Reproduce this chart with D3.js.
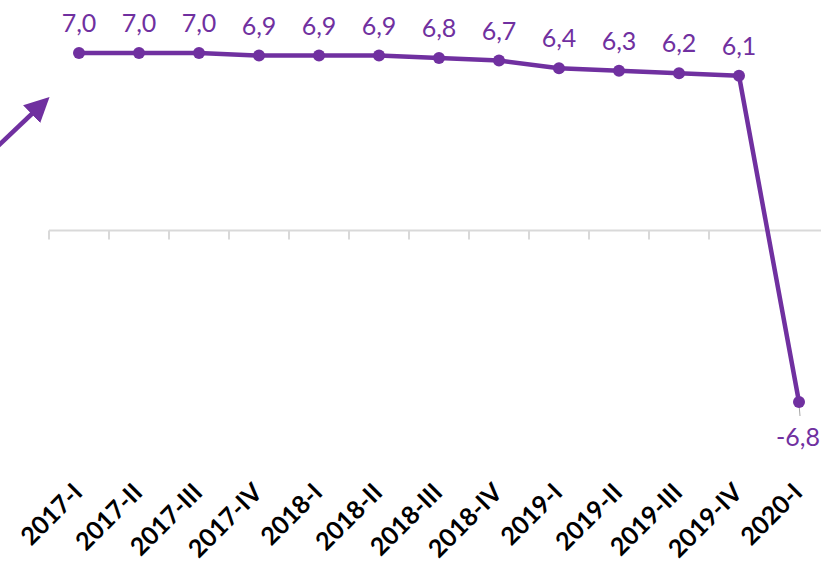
<!DOCTYPE html>
<html><head><meta charset="utf-8">
<script src="https://cdn.jsdelivr.net/npm/d3@7"></script>
<style>body{margin:0;background:#fff}svg{display:block}</style>
</head><body>
<script>
const categories = ["2017-I","2017-II","2017-III","2017-IV","2018-I","2018-II","2018-III","2018-IV","2019-I","2019-II","2019-III","2019-IV","2020-I"];
const values = [7.0,7.0,7.0,6.9,6.9,6.9,6.8,6.7,6.4,6.3,6.2,6.1,-6.8];
const labels = ["7,0","7,0","7,0","6,9","6,9","6,9","6,8","6,7","6,4","6,3","6,2","6,1","-6,8"];

const W = 821, H = 565, color = "#7030A0";
const svg = d3.select("body").append("svg").attr("width", W).attr("height", H);

const x = d3.scaleBand().domain(categories).range([49, 829]);
const cx = d => x(d) + x.bandwidth() / 2;
const y = d3.scaleLinear().domain([-6.8, 7.0]).range([402, 53]);

// axis line and boundary ticks
const y0 = Math.round(y(0)) + 0.5;
const ax = svg.append("g");
ax.append("line").attr("x1", 49).attr("x2", 829).attr("y1", y0).attr("y2", y0)
  .attr("stroke", "#d9d9d9").attr("stroke-width", 2);
const bounds = categories.map(c => x(c)).concat([x.range()[1]]);
ax.selectAll("line.t").data(bounds).enter().append("line").attr("class", "t")
  .attr("x1", d => d).attr("x2", d => d).attr("y1", y0).attr("y2", y0 + 9)
  .attr("stroke", "#d9d9d9").attr("stroke-width", 2);

// x labels
svg.append("g").selectAll("text").data(categories).enter().append("text")
  .attr("transform", d => `translate(${cx(d) + 5},${494}) rotate(-45)`)
  .attr("text-anchor", "end")
  .attr("font-family", "Lato, sans-serif").attr("font-weight", "bold")
  .attr("font-size", 25).attr("fill", "#000").text(d => d);

// arrow
svg.append("defs").append("marker").attr("id", "ah").attr("viewBox", "0 0 10 10")
  .attr("refX", 3).attr("refY", 5).attr("markerWidth", 5.5).attr("markerHeight", 5.5)
  .attr("orient", "auto").append("path").attr("d", "M0,0 L10,5 L0,10 z").attr("fill", color);
svg.append("line").attr("x1", -4).attr("y1", 148).attr("x2", 37).attr("y2", 109)
  .attr("stroke", color).attr("stroke-width", 4.5).attr("marker-end", "url(#ah)");

// leader line for last label
const last = categories.length - 1;
svg.append("line").attr("x1", cx(categories[last])).attr("x2", cx(categories[last]) + 1)
  .attr("y1", y(values[last]) + 2).attr("y2", y(values[last]) + 14)
  .attr("stroke", "#a6a6a6").attr("stroke-width", 1);

// line
const line = d3.line().x((d, i) => cx(categories[i])).y(d => y(d));
svg.append("path").datum(values).attr("d", line).attr("fill", "none")
  .attr("stroke", color).attr("stroke-width", 4.5).attr("stroke-linejoin", "round");

svg.append("g").selectAll("circle").data(values).enter().append("circle")
  .attr("cx", (d, i) => cx(categories[i])).attr("cy", d => y(d)).attr("r", 6).attr("fill", color);

// data labels
svg.append("g").selectAll("text").data(values).enter().append("text")
  .attr("x", (d, i) => i === last ? W - 1 : cx(categories[i]))
  .attr("y", (d, i) => i === last ? y(d) + 44 : y(d) - 21)
  .attr("text-anchor", (d, i) => i === last ? "end" : "middle")
  .attr("font-family", "Lato, sans-serif")
  .attr("font-size", 25).attr("fill", color).text((d, i) => labels[i]);
</script>
</body></html>
